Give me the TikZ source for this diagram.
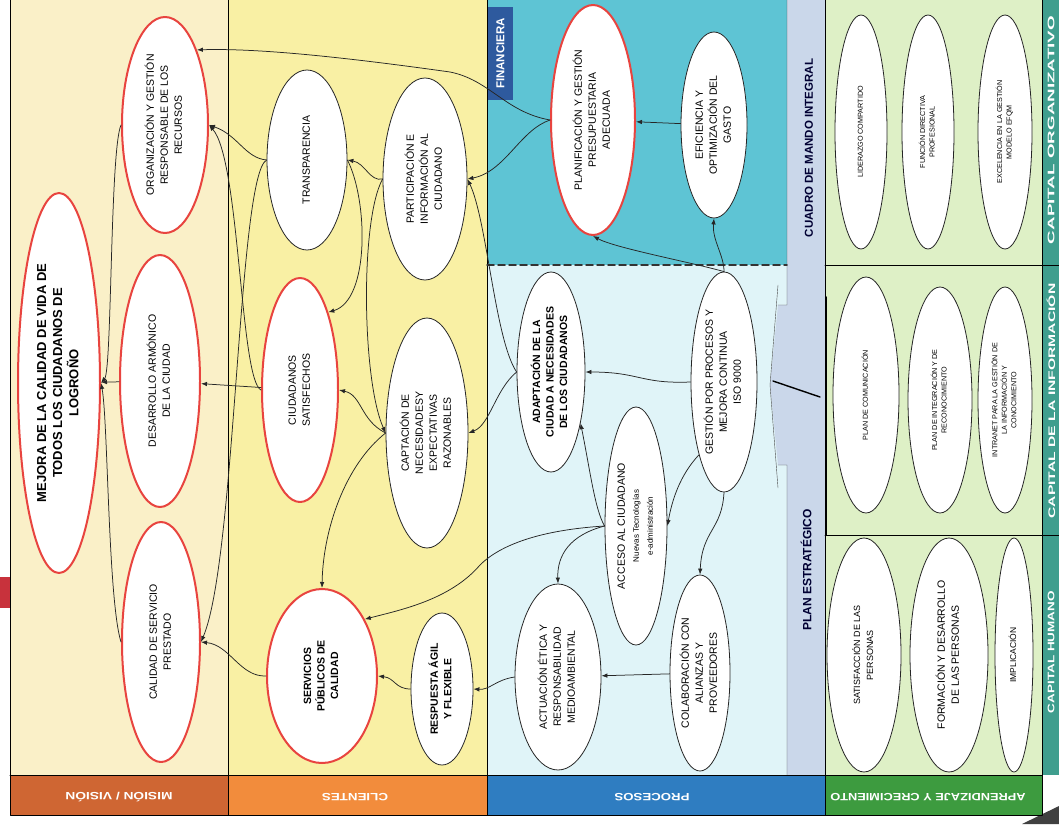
\documentclass[tikz,border=0pt]{standalone}
\usepackage{fontspec}
\setmainfont{Liberation Sans}
\usepackage{graphicx}
\usetikzlibrary{arrows.meta, shapes.geometric}
\definecolor{misfill}{HTML}{FAF0C8}
\definecolor{clifill}{HTML}{F9F0A4}
\definecolor{finfill}{HTML}{5EC4D4}
\definecolor{procfill}{HTML}{E0F4F8}
\definecolor{stripfill}{HTML}{CAD7EA}
\definecolor{greenfill}{HTML}{DEF0C6}
\definecolor{tealfill}{HTML}{3F9E8E}
\definecolor{finblue}{HTML}{2E5A9E}
\definecolor{misband}{HTML}{CF6633}
\definecolor{cliband}{HTML}{F28C3C}
\definecolor{proband}{HTML}{2F7DC1}
\definecolor{aprband}{HTML}{3D9B3F}
\definecolor{keyred}{HTML}{E8443F}
\definecolor{tabred}{HTML}{C8323C}
\newcommand\vtxt[1]{\rotatebox{90}{\begin{tabular}{@{}c@{}}#1\end{tabular}}}
\tikzset{
  >={Latex[length=6pt, width=4.5pt]},
  every picture/.style={line cap=round, line join=round},
  oval/.style 2 args={ellipse, draw=black!85, line width=0.8pt, fill=white, minimum width=#1pt, minimum height=#2pt, inner sep=0pt},
  key/.style={draw=keyred, line width=2pt},
  conn/.style={->, black!85, line width=0.75pt},
  tn/.style={font=\fontsize{10.5}{14}\selectfont},
  tb/.style={font=\fontsize{10.5}{13.5}\selectfont\bfseries},
  ts/.style={font=\fontsize{7.2}{9.5}\selectfont},
  bandlbl/.style={text=white, inner sep=0pt, font=\fontsize{10.5}{11}\selectfont\bfseries},
  sidelbl/.style={text=white, inner sep=0pt, font=\fontsize{9.5}{10}\selectfont\bfseries},
  striplbl/.style={text=black!80!blue, inner sep=0pt, font=\fontsize{11.5}{13}\selectfont\bfseries},
}
\begin{document}
\begin{tikzpicture}[x=1pt, y=-1pt]
  \useasboundingbox (0,0) rectangle (1059,824);
  % ---------------- column backgrounds
  \fill[misfill] (10,0) rectangle (228,775);
  \fill[clifill] (228,0) rectangle (487,775);
  \fill[finfill] (487,0) rectangle (787,265);
  \fill[procfill] (487,265) rectangle (787,775);
  \fill[greenfill] (825,0) rectangle (1042,775);
  \fill[tealfill] (1042,0) rectangle (1059,775);
  \fill[stripfill] (825,0) -- (787,0) -- (787,305) -- (778,305) -- (770,385)
    -- (778,465) -- (787,465) -- (787,775) -- (825,775) -- cycle;
  \draw[gray!60!black, thin] (787,0) -- (787,305) -- (778,305) (778,285) -- (770,385) -- (778,488)
    (778,465) -- (787,465) -- (787,775);
  \fill[tabred] (0,577) rectangle (10,608);
  % ---------------- bottom bands
  \fill[misband] (10,775) rectangle (228,815);
  \fill[cliband] (228,775) rectangle (487,815);
  \fill[proband] (487,775) rectangle (825,815);
  \fill[aprband] (825,775) rectangle (1042,815);
  \fill[black!75] (1022,824) -- (1059,806) -- (1059,824) -- cycle;
  % ---------------- frame and dividers
  \draw[line width=1pt] (10,0) -- (10,815) -- (1042,815);
  \draw[line width=1pt] (10,775) -- (1042,775);
  \draw[line width=1pt] (228,0) -- (228,815) (487,0) -- (487,815) (825,0) -- (825,815) (1042,0) -- (1042,815);
  \draw[line width=1pt] (825,265) -- (1059,265) (825,535) -- (1059,535);
  \draw[line width=2pt] (826,297) -- (826,535);
  \draw[black!80, line width=1.5pt, dash pattern=on 7pt off 4pt] (487,265) -- (787,265);
  \draw[line width=1.4pt] (773,381) -- (820,397);
  % ---------------- side and band labels
  \node[fill=finblue, minimum width=25pt, minimum height=93pt, inner sep=0pt, text=white,
    font=\fontsize{11.5}{13}\selectfont\bfseries] (finlbl) at (500.5,53.5) {\rotatebox{90}{FINANCIERA}};
  \node[striplbl] (cmi) at (809,148) {\rotatebox{90}{CUADRO DE MANDO INTEGRAL}};
  \node[striplbl, font=\fontsize{12}{13}\selectfont\bfseries] (pest) at (806,570) {\rotatebox{90}{PLAN ESTRATÉGICO}};
  \node[sidelbl] (corg) at (1051,130) {\rotatebox{90}{\resizebox{228pt}{\height}{CAPITAL ORGANIZATIVO}}};
  \node[sidelbl] (cinf) at (1051,401) {\rotatebox{90}{\resizebox{235pt}{\height}{CAPITAL DE LA INFORMACIÓN}}};
  \node[sidelbl] (chum) at (1051,652) {\rotatebox{90}{\resizebox{122pt}{\height}{CAPITAL HUMANO}}};
  \node[bandlbl] (lmis) at (119,797) {\rotatebox{180}{\resizebox{107pt}{\height}{MISIÓN / VISIÓN}}};
  \node[bandlbl] (lcli) at (355,797) {\rotatebox{180}{\resizebox{66pt}{\height}{CLIENTES}}};
  \node[bandlbl] (lpro) at (652,797) {\rotatebox{180}{\resizebox{75pt}{\height}{PROCESOS}}};
  \node[bandlbl] (lapr) at (928,797) {\rotatebox{180}{\resizebox{195pt}{\height}{APRENDIZAJE Y CRECIMIENTO}}};
  % ---------------- mision / vision
  \node[oval={82}{380}, key, font=\fontsize{13}{16}\selectfont\bfseries] (mejora) at (59,383)
    {\vtxt{MEJORA DE LA CALIDAD DE VIDA DE\\TODOS LOS CIUDADANOS DE\\LOGROÑO}};
  \node[oval={86}{216}, key, tn] (org) at (165,125) {\vtxt{ORGANIZACIÓN Y GESTIÓN\\RESPONSABLE DE LOS\\RECURSOS}};
  \node[oval={80}{252}, key, tn] (des) at (160,381) {\vtxt{DESARROLLO ARMÓNICO\\DE LA CIUDAD}};
  \node[oval={78}{240}, key, tn] (cal) at (161,642) {\vtxt{CALIDAD DE SERVICIO\\PRESTADO}};
  % ---------------- clientes
  \node[oval={80}{180}, tn] (transp) at (307,160) {\vtxt{TRANSPARENCIA}};
  \node[oval={84}{202}, tn] (partic) at (425,179) {\vtxt{PARTICIPACIÓN E\\INFORMACIÓN AL\\CIUDADANO}};
  \node[oval={76}{224}, key, tn] (ciud) at (300,390) {\vtxt{CIUDADANOS\\SATISFECHOS}};
  \node[oval={82}{230}, tn] (capt) at (427,433) {\vtxt{CAPTACIÓN DE\\NECESIDADESY\\EXPECTATIVAS\\RAZONABLES}};
  \node[oval={110}{174}, key, tb] (serv) at (322,676) {\vtxt{SERVICIOS\\PÚBLICOS DE\\CALIDAD}};
  \node[oval={62}{152}, tb] (resp) at (442,689) {\vtxt{RESPUESTA ÁGIL\\Y FLEXIBLE}};
  % ---------------- financiera / procesos
  \node[oval={84}{230}, key, tn] (plan) at (593,120) {\vtxt{PLANIFICACIÓN Y GESTIÓN\\PRESUPUESTARIA\\ADECUADA}};
  \node[oval={66}{186}, tn] (efic) at (714,125) {\vtxt{EFICIENCIA Y\\OPTIMIZACIÓN DEL\\GASTO}};
  \node[oval={68}{200}, tb] (adapt) at (551,372) {\vtxt{ADAPTACIÓN DE LA\\CIUDAD A NECESIDADES\\DE LOS CIUDADANOS}};
  \node[oval={66}{220}, tn] (gest) at (724,382) {\vtxt{GESTIÓN POR PROCESOS Y\\MEJORA CONTINUA\\ISO 9000}};
  \node[oval={62}{238}, tn] (acceso) at (636,526)
    {\vtxt{ACCESO AL CIUDADANO\\{\fontsize{8}{11}\selectfont Nuevas Tecnologías}\\{\fontsize{8}{11}\selectfont e-administración}}};
  \node[oval={86}{186}, tn] (actua) at (558,677) {\vtxt{ACTUACIÓN ÉTICA Y\\RESPONSABILIDAD\\MEDIOAMBIENTAL}};
  \node[oval={60}{196}, tn] (colab) at (700,673) {\vtxt{COLABORACIÓN CON\\ALIANZAS Y\\PROVEEDORES}};
  % ---------------- aprendizaje y crecimiento
  \node[oval={52}{234}, ts] (lider) at (861,132) {\vtxt{LIDERAZGO COMPARTIDO}};
  \node[oval={52}{234}, ts] (funcion) at (928,132) {\vtxt{FUNCIÓN DIRECTIVA\\PROFESIONAL}};
  \node[oval={54}{234}, ts] (excel) at (1005,132) {\vtxt{EXCELENCIA EN LA GESTIÓN\\MODELO EFQM}};
  \node[oval={66}{236}, ts] (plancom) at (866,395) {\vtxt{PLAN DE COMUNICACIÓN}};
  \node[oval={64}{226}, ts] (planint) at (940,400) {\vtxt{PLAN DE INTEGRACIÓN Y DE\\RECONOCIMIENTO}};
  \node[oval={54}{226}, ts] (intranet) at (1005,400) {\vtxt{INTRANET PARA LA GESTIÓN DE\\LA INFORMACIÓN Y\\CONOCIMIENTO}};
  \node[oval={74}{234}, font=\fontsize{9}{13}\selectfont] (satisf) at (864,655) {\vtxt{SATISFACCIÓN DE LAS\\PERSONAS}};
  \node[oval={78}{234}, tn] (formac) at (949,655) {\vtxt{FORMACIÓN Y DESARROLLO\\DE LAS PERSONAS}};
  \node[oval={38}{234}, font=\fontsize{8.5}{10}\selectfont] (implic) at (1014,655) {\vtxt{IMPLICACIÓN}};
  % ---------------- connectors: mision
  \draw[conn] (org.west) .. controls (110,150) and (112,370) .. (mejora.east);
  \draw[conn] (des) -- (mejora);
  \draw[conn] (cal.west) .. controls (108,600) and (108,420) .. (mejora.east);
  % ---------------- connectors: clientes to mision
  \draw[conn] (plan.west) .. controls (505,112) and (490,80) .. (450,72)
    .. controls (350,58) and (260,48) .. (org.67);
  \draw[conn] (transp.west) .. controls (245,158) and (238,135) .. (org.east);
  \draw[conn] (ciud.west) .. controls (240,380) and (240,160) .. (org.east);
  \draw[conn] (ciud) -- (des);
  \draw[conn] (transp.west) .. controls (238,175) and (236,560) .. (cal.east);
  \draw[conn] (serv.west) .. controls (240,677) and (230,645) .. (cal.east);
  % ---------------- connectors: clientes
  \draw[conn] (partic.west) .. controls (370,182) and (365,163) .. (transp.east);
  \draw[conn] (transp.east) .. controls (368,200) and (370,300) .. (ciud.70);
  \draw[conn] (partic.west) .. controls (360,220) and (362,380) .. (capt.west);
  \draw[conn] (capt.west) .. controls (360,420) and (362,395) .. (ciud.east);
  \draw[conn] (capt.west) .. controls (345,465) and (323,530) .. (serv.north);
  \draw[conn] (resp.west) .. controls (395,689) and (395,678) .. (serv.east);
  % ---------------- connectors: procesos to clientes
  \draw[conn] (plan.west) .. controls (520,130) and (505,172) .. (partic.east);
  \draw[conn] (adapt.west) .. controls (495,340) and (487,220) .. (partic.east);
  \draw[conn] (adapt.west) .. controls (495,390) and (490,425) .. (capt.east);
  \draw[conn] (acceso.west) .. controls (540,530) and (500,545) .. (480,565)
    .. controls (450,600) and (400,610) .. (serv.53);
  \draw[conn] (actua.west) .. controls (495,680) and (490,690) .. (resp.east);
  % ---------------- connectors: procesos
  \draw[conn] (efic) -- (plan);
  \draw[conn] (gest.north) .. controls (690,262) and (615,248) .. (plan.south);
  \draw[conn] (gest.north) .. controls (724,255) and (712,240) .. (efic.south);
  \draw[conn] (gest.west) .. controls (640,384) and (640,372) .. (adapt.east);
  \draw[conn] (gest.251) .. controls (680,475) and (672,500) .. (acceso.east);
  \draw[conn] (gest.south) .. controls (722,530) and (702,530) .. (colab.north);
  \draw[conn] (colab) -- (actua);
  \draw[conn] (acceso.west) .. controls (570,535) and (557,555) .. (actua.north);
  \draw[conn] (acceso.west) .. controls (595,510) and (590,470) .. (adapt.-60);
\end{tikzpicture}
\end{document}
